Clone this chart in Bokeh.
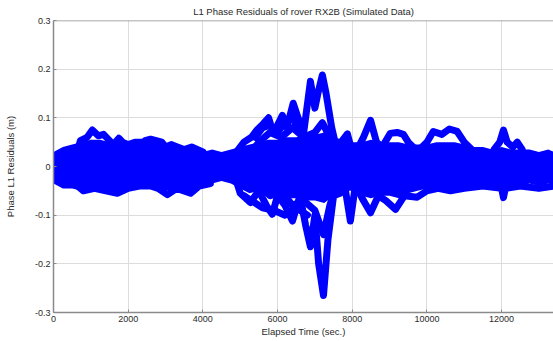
from bokeh.plotting import figure
from bokeh.models import Range1d, FixedTicker, Span
from bokeh.embed import file_html
from bokeh.resources import INLINE

# ---- data (time in s, residual in m) ----
core_t = [0, 250, 500, 750, 1000, 1250, 1500, 1750, 2000, 2250, 2500, 2750, 3000, 3250,
          3500, 3750, 4000, 4250, 4500, 4750, 5000, 5250, 5500, 5750, 6000, 6250, 6500,
          6750, 7000, 7250, 7500, 7750, 8000, 8250, 8500, 8750, 9000, 9250, 9500, 9750,
          10000, 10250, 10500, 10750, 11000, 11250, 11500, 11750, 12000, 12250, 12500,
          12750, 13000, 13250, 13400]
core_hi = [0.03, 0.04, 0.045, 0.05, 0.055, 0.055, 0.05, 0.05, 0.045, 0.045, 0.045, 0.045,
           0.04, 0.04, 0.035, 0.035, 0.03, 0.035, 0.03, 0.035, 0.04, 0.045, 0.05, 0.055,
           0.055, 0.06, 0.06, 0.065, 0.065, 0.07, 0.06, 0.055, 0.05, 0.05, 0.055, 0.05,
           0.05, 0.05, 0.045, 0.045, 0.045, 0.05, 0.05, 0.05, 0.045, 0.04, 0.04, 0.035,
           0.04, 0.035, 0.035, 0.035, 0.03, 0.035, 0.03]
core_lo = [-0.035, -0.045, -0.045, -0.05, -0.045, -0.05, -0.05, -0.055, -0.045, -0.04,
           -0.04, -0.04, -0.05, -0.045, -0.045, -0.05, -0.04, -0.035, -0.03, -0.035,
           -0.045, -0.055, -0.05, -0.065, -0.06, -0.065, -0.065, -0.07, -0.07, -0.075,
           -0.06, -0.05, -0.05, -0.06, -0.065, -0.06, -0.06, -0.065, -0.055, -0.05,
           -0.045, -0.045, -0.045, -0.045, -0.04, -0.04, -0.04, -0.04, -0.04, -0.04,
           -0.04, -0.035, -0.04, -0.035, -0.035]

arc_a_t = [600, 720, 900, 1040, 1200, 1340, 1500, 1600, 1750, 1850, 2000, 2200, 2410,
           2550, 2700, 2860, 3000, 3150, 3320, 3500, 3700, 4000]
arc_a_v = [0.02, 0.053, 0.06, 0.075, 0.063, 0.066, 0.053, 0.045, 0.058, 0.05, 0.045, 0.05,
           0.05, 0.04, 0.045, 0.047, 0.04, 0.045, 0.04, 0.035, 0.04, 0.03]
arc_b_t = [2300, 2450, 2600, 2750, 2900, 3050]
arc_b_v = [0.03, 0.053, 0.056, 0.053, 0.05, 0.035]
arc_c_t = [500, 800, 1100, 1400, 1710, 2000, 2300, 2600, 2800, 3050, 3300, 3670, 3900, 4200]
arc_c_v = [-0.03, -0.05, -0.045, -0.05, -0.055, -0.045, -0.04, -0.04, -0.045, -0.058,
           -0.045, -0.055, -0.04, -0.035]
arc_d_t = [4900, 5100, 5300, 5450, 5620, 5760, 5880, 6000, 6130, 6250, 6420, 6550, 6700,
           6880, 7000, 7080, 7200, 7300, 7450, 7600]
arc_d_v = [0.03, 0.05, 0.06, 0.075, 0.088, 0.1, 0.07, 0.085, 0.105, 0.08, 0.13, 0.1,
           0.07, 0.175, 0.12, 0.15, 0.188, 0.15, 0.08, 0.03]
arc_e_t = [5200, 5500, 5800, 6100, 6400, 6700, 7000, 7200, 7400, 7600, 7870, 8000]
arc_e_v = [0.02, 0.05, 0.07, 0.06, 0.08, 0.06, 0.07, 0.09, 0.06, 0.04, 0.067, 0.03]
arc_l_t = [5400, 5600, 5800, 6000, 6200, 6400, 6600]
arc_l_v = [0.06, 0.08, 0.085, 0.07, 0.09, 0.1, 0.075]
arc_f_t = [4900, 5000, 5270, 5500, 5700, 5860, 6000, 6200, 6400, 6600, 6750, 6880, 7000,
           7100, 7230, 7350, 7500, 7680, 7800, 7950, 8100]
arc_f_v = [-0.03, -0.055, -0.074, -0.05, -0.08, -0.098, -0.06, -0.08, -0.112, -0.06, -0.12,
           -0.165, -0.1, -0.2, -0.265, -0.15, -0.06, -0.055, -0.04, -0.112, -0.03]
arc_g_t = [5500, 5800, 6100, 6400, 6700, 7000, 7230, 7400, 7600]
arc_g_v = [-0.03, -0.06, -0.05, -0.08, -0.07, -0.09, -0.14, -0.08, -0.03]
arc_m_t = [5100, 5300, 5600, 5900, 6200, 6500, 6800]
arc_m_v = [-0.06, -0.07, -0.085, -0.09, -0.1, -0.085, -0.1]
arc_h_t = [8100, 8300, 8490, 8650, 8800, 9020, 9200, 9370, 9500, 9700]
arc_h_v = [0.03, 0.06, 0.095, 0.05, 0.04, 0.068, 0.07, 0.066, 0.05, 0.035]
arc_i_t = [9800, 10000, 10170, 10400, 10600, 10810, 11000, 11200]
arc_i_v = [0.035, 0.05, 0.072, 0.066, 0.077, 0.072, 0.05, 0.035]
arc_j_t = [11800, 11950, 12050, 12150, 12300, 12420, 12550]
arc_j_v = [0.035, 0.05, 0.075, 0.05, 0.04, 0.05, 0.035]
arc_k_t = [8100, 8300, 8490, 8700, 8900, 9160, 9400, 9740, 10000, 10300, 10630, 11000,
           11500, 12000, 12050, 12100, 12500, 13000, 13400]
arc_k_v = [-0.04, -0.07, -0.095, -0.06, -0.07, -0.088, -0.06, -0.063, -0.05, -0.045, -0.05,
           -0.045, -0.04, -0.045, -0.064, -0.045, -0.04, -0.045, -0.04]

x_ticks = [0, 2000, 4000, 6000, 8000, 10000, 12000]
y_ticks = [-0.3, -0.2, -0.1, 0, 0.1, 0.2, 0.3]
y_tick_labels = {-0.3: "-0.3", -0.2: "-0.2", -0.1: "-0.1", 0: "0", 0.1: "0.1", 0.2: "0.2", 0.3: "0.3"}

BLUE = "#0000ff"
FONT = "Liberation Sans"
TXT = "#2a2a2a"
AXC = "#8a8a8a"

p = figure(width=553, height=341, output_backend="svg", toolbar_location=None,
           x_range=Range1d(0, 13390), y_range=Range1d(-0.3, 0.3),
           min_border_left=53, min_border_right=0, min_border_top=20, min_border_bottom=29)
p.outline_line_color = None
p.background_fill_color = "white"
p.border_fill_color = "white"

p.title.text = "L1 Phase Residuals of rover RX2B (Simulated Data)"
p.title.text_font = FONT
p.title.text_font_size = "9.5px"
p.title.text_font_style = "normal"
p.title.text_color = TXT
p.title.align = "center"
p.title.offset = 0
p.title.standoff = 7

# data
p.varea(x=core_t, y1=core_lo, y2=core_hi, fill_color=BLUE)
for t, v in [(arc_a_t, arc_a_v), (arc_b_t, arc_b_v), (arc_c_t, arc_c_v), (arc_d_t, arc_d_v),
             (arc_e_t, arc_e_v), (arc_l_t, arc_l_v), (arc_f_t, arc_f_v), (arc_g_t, arc_g_v),
             (arc_m_t, arc_m_v), (arc_h_t, arc_h_v), (arc_i_t, arc_i_v), (arc_j_t, arc_j_v),
             (arc_k_t, arc_k_v)]:
    p.line(t, v, line_color=BLUE, line_width=7, line_join="round", line_cap="round")
    p.scatter(t, v, size=4, color=BLUE)

# axes
for ax in (p.xaxis[0], p.yaxis[0]):
    ax.axis_line_color = AXC
    ax.axis_line_width = 1.5
    ax.major_tick_in = 3
    ax.major_tick_out = 0
    ax.major_tick_line_color = AXC
    ax.minor_tick_line_color = None
    ax.major_label_text_font = FONT
    ax.major_label_text_font_size = "9px"
    ax.major_label_text_color = TXT
    ax.axis_label_text_font = FONT
    ax.axis_label_text_font_size = "9.5px"
    ax.axis_label_text_font_style = "normal"
    ax.axis_label_text_color = TXT

p.xaxis.ticker = FixedTicker(ticks=x_ticks)
p.xaxis.axis_label = "Elapsed Time (sec.)"
p.xaxis.major_label_standoff = 3
p.xaxis.axis_label_standoff = 1
p.yaxis.ticker = FixedTicker(ticks=y_ticks)
p.yaxis.major_label_overrides = {k: v for k, v in y_tick_labels.items()}
p.yaxis.axis_label = "Phase L1 Residuals (m)"
p.yaxis.major_label_standoff = 3
p.yaxis.axis_label_standoff = 16

# top border of the box
p.add_layout(Span(location=0.3, dimension="width", line_color=AXC, line_width=1.5))

p.xgrid.ticker = FixedTicker(ticks=x_ticks)
p.ygrid.ticker = FixedTicker(ticks=y_ticks)
p.grid.grid_line_color = "#dcdcdc"
p.grid.grid_line_width = 1

open("out.html", "w").write(file_html(p, INLINE))
